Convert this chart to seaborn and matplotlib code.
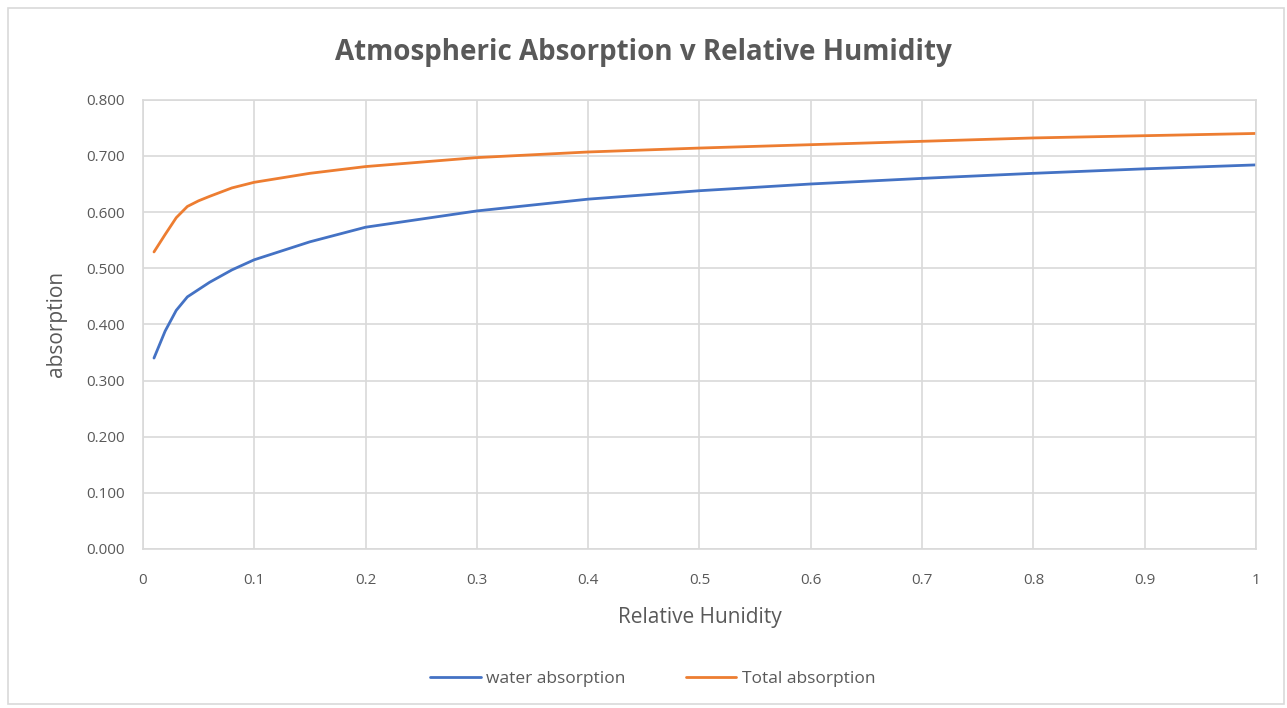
import matplotlib
matplotlib.use("Agg")
import matplotlib.pyplot as plt
import matplotlib.patches as patches
import seaborn as sns
import pandas as pd

# Dữ liệu
humidity = [0.01, 0.02, 0.03, 0.04, 0.05, 0.06, 0.08, 0.1, 0.15, 0.2, 0.3, 0.4,
            0.5, 0.6, 0.7, 0.8, 0.9, 1.0]
water_absorption = [0.340, 0.388, 0.425, 0.449, 0.462, 0.475, 0.497, 0.515, 0.547,
                    0.573, 0.602, 0.623, 0.638, 0.650, 0.660, 0.669, 0.677, 0.684]
total_absorption = [0.529, 0.560, 0.590, 0.610, 0.620, 0.628, 0.643, 0.653, 0.669,
                    0.681, 0.697, 0.707, 0.714, 0.720, 0.726, 0.732, 0.736, 0.740]
series_names = ["water absorption", "Total absorption"]
x_ticks = [0, 0.1, 0.2, 0.3, 0.4, 0.5, 0.6, 0.7, 0.8, 0.9, 1.0]
x_tick_labels = ["0", "0.1", "0.2", "0.3", "0.4", "0.5", "0.6", "0.7", "0.8", "0.9", "1"]
y_ticks = [0, 0.1, 0.2, 0.3, 0.4, 0.5, 0.6, 0.7, 0.8]

df = pd.concat([
    pd.DataFrame({"x": humidity, "y": water_absorption, "series": series_names[0]}),
    pd.DataFrame({"x": humidity, "y": total_absorption, "series": series_names[1]}),
])

sns.set_style("white")
plt.rcParams["font.family"] = ["Open Sans", "DejaVu Sans"]
text_gray = "#595959"
grid_gray = "#d9d9d9"

fig = plt.figure(figsize=(12.87, 7.08), dpi=100)
ax = fig.add_axes([0.111, 0.2246, 0.865, 0.6345])

sns.lineplot(data=df, x="x", y="y", hue="series", hue_order=series_names,
             palette=["#4472C4", "#ED7D31"], linewidth=2.0, ax=ax)

ax.set_xlim(0, 1)
ax.set_ylim(0, 0.8)
ax.set_xticks(x_ticks)
ax.set_xticklabels(x_tick_labels)
ax.set_yticks(y_ticks)
ax.set_yticklabels([f"{v:.3f}" for v in y_ticks])
ax.tick_params(colors=text_gray, labelsize=11, length=0)
ax.tick_params(axis="x", pad=17)
ax.tick_params(axis="y", pad=13)
ax.grid(True, color=grid_gray, linewidth=1.2)
ax.set_axisbelow(True)
for s in ax.spines.values():
    s.set_color(grid_gray)
    s.set_linewidth(1.2)

ax.set_xlabel("Relative Hunidity", color=text_gray, fontsize=15, labelpad=14)
ax.set_ylabel("absorption", color=text_gray, fontsize=15, labelpad=14)
fig.text(0.5, 0.926, "Atmospheric Absorption v Relative Humidity",
         ha="center", va="center", fontsize=20, fontweight="bold", color=text_gray)

ax.legend(loc="center", bbox_to_anchor=(0.458, -0.29), ncol=2, frameon=False,
          fontsize=12.5, labelcolor=text_gray, handlelength=2.9, columnspacing=3.5,
          handletextpad=0.3)

# Khung viền ngoài kiểu Excel
fig.patches.append(patches.Rectangle((0.006, 0.006), 0.992, 0.982, transform=fig.transFigure,
                                     fill=False, edgecolor=grid_gray, linewidth=1.2))

fig.savefig("out.png", dpi=100)
